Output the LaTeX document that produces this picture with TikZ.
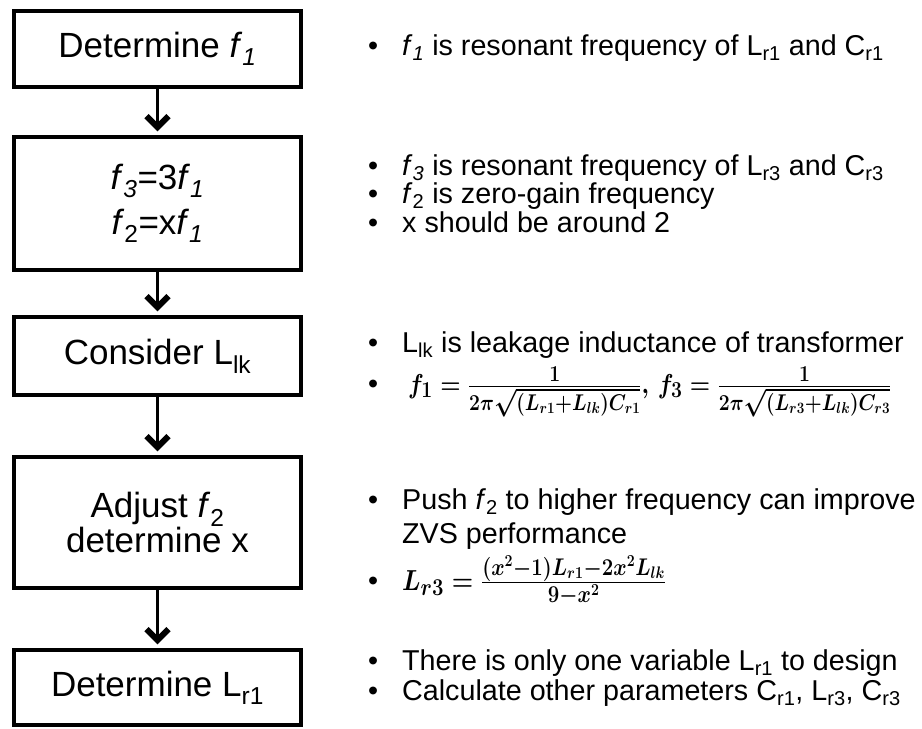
\documentclass[tikz,border=0pt]{standalone}
\usepackage[no-math]{fontspec}
\setmainfont{Liberation Sans}
\usepackage{amsmath}
\usetikzlibrary{arrows.meta,shadows}
\newcommand{\mybul}[1][34pt]{\makebox[#1][l]{•}}
\begin{document}
\begin{tikzpicture}[x=1pt,y=-1pt,
  box/.style={draw=black, line width=3.5pt, fill=white, inner sep=0pt,
    minimum width=287pt, align=center, font=\fontsize{35}{45}\selectfont,
    drop shadow={shadow xshift=1.5pt, shadow yshift=-1.5pt, opacity=0.3, fill=black}},
  arr/.style={line width=3.5pt, -{Straight Barb[length=11pt,width=22pt,line width'=6pt]}},
  txt/.style={anchor=base west, inner sep=0pt, font=\fontsize{28.7}{30}\selectfont},
]
\useasboundingbox (0,0) rectangle (922,729);

% boxes
\node[box, minimum height=76pt] (b1) at (157.5,49)
  {Determine \textit{f}\textsubscript{\textit{1}}};
\node[box, minimum height=133pt] (b2) at (157.5,203.5)
  {\textit{f}\textsubscript{\textit{3}}=3\textit{f}\textsubscript{\textit{1}}\\
   \textit{f}\textsubscript{2}=x\textit{f}\textsubscript{\textit{1}}};
\node[box, minimum height=78pt] (b3) at (157.5,356)
  {Consider L\textsubscript{lk}};
\node[box, minimum height=131pt, font=\fontsize{35}{35}\selectfont] (b4) at (157.5,522.5)
  {Adjust \textit{f}\textsubscript{2}\\determine x};
\node[box, minimum height=75pt] (b5) at (157.5,687.5)
  {Determine L\textsubscript{r1}};

% arrows
\draw[arr] (b1.south) -- ([yshift=4pt]b2.north);
\draw[arr] (b2.south) -- ([yshift=4pt]b3.north);
\draw[arr] (b3.south) -- ([yshift=4pt]b4.north);
\draw[arr] (b4.south) -- ([yshift=4pt]b5.north);

% notes
\node[txt] (t1) at (368,55) {\mybul\textit{f}\textsubscript{\textit{1}} is resonant frequency of L\textsubscript{r1} and C\textsubscript{r1}};

\node[txt] (t2a) at (368,175) {\mybul\textit{f}\textsubscript{\textit{3}} is resonant frequency of L\textsubscript{r3} and C\textsubscript{r3}};
\node[txt] (t2b) at (368,203) {\mybul\textit{f}\textsubscript{2} is zero-gain frequency};
\node[txt] (t2c) at (368,232) {\mybul x should be around 2};

\node[txt] (t3a) at (368,352) {\mybul L\textsubscript{lk} is leakage inductance of transformer};
\node[txt] (t3b) at (368,393) {\mybul[40pt]\resizebox*{483pt}{50pt}{\boldmath$f_1=\frac{1}{2\pi\sqrt{(L_{r1}+L_{lk})C_{r1}}},\,f_3=\frac{1}{2\pi\sqrt{(L_{r3}+L_{lk})C_{r3}}}$}};

\node[txt] (t4a) at (368,509) {\mybul Push \textit{f}\textsubscript{2} to higher frequency can improve};
\node[txt] (t4b) at (402,543) {ZVS performance};
\node[txt] (t4c) at (368,590) {\mybul\resizebox*{264pt}{50pt}{\boldmath$L_{r3}=\frac{(x^2-1)L_{r1}-2x^2L_{lk}}{9-x^2}$}};

\node[txt] (t5a) at (368,670) {\mybul There is only one variable L\textsubscript{r1} to design};
\node[txt] (t5b) at (368,700) {\mybul Calculate other parameters C\textsubscript{r1}, L\textsubscript{r3}, C\textsubscript{r3}};
\end{tikzpicture}
\end{document}
